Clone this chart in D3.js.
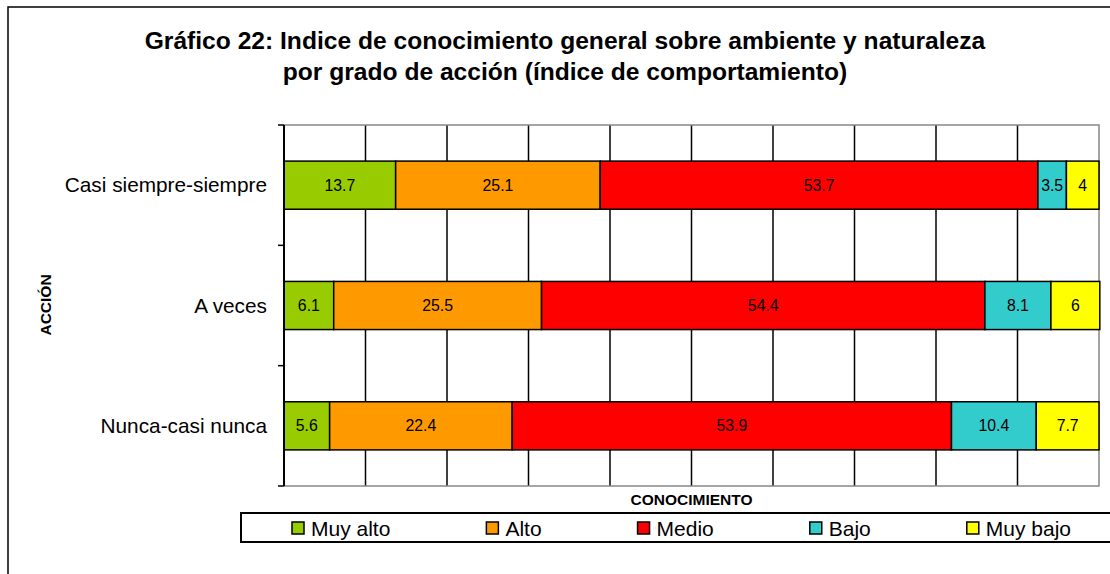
<!DOCTYPE html>
<html>
<head>
<meta charset="utf-8">
<script src="https://cdn.jsdelivr.net/npm/d3@7"></script>
<style>
  html, body { margin: 0; padding: 0; background: #fff; }
  svg { display: block; font-family: "Liberation Sans", Arial, sans-serif; }
</style>
</head>
<body>
<svg id="chart" width="1110" height="574"></svg>
<script>
// ---- data ----
const categories = ["Casi siempre-siempre", "A veces", "Nunca-casi nunca"];
const seriesNames = ["Muy alto", "Alto", "Medio", "Bajo", "Muy bajo"];
const muyAlto = [13.7, 6.1, 5.6];
const alto    = [25.1, 25.5, 22.4];
const medio   = [53.7, 54.4, 53.9];
const bajo    = [3.5, 8.1, 10.4];
const muyBajo = [4, 6, 7.7];
const seriesColors = ["#99CC00", "#FF9900", "#FF0000", "#33CCCC", "#FFFF00"];
const xTicks = [0, 10, 20, 30, 40, 50, 60, 70, 80, 90, 100];
const titleLines = ["Gráfico 22: Indice de conocimiento general sobre ambiente y naturaleza",
                    "por grado de acción (índice de comportamiento)"];
const xTitle = "CONOCIMIENTO";
const yTitle = "ACCIÓN";

const seriesValues = [muyAlto, alto, medio, bajo, muyBajo];

// ---- layout ----
const svg = d3.select("#chart");
const plot = { left: 284, top: 125, right: 1099, bottom: 486 };

// outer chart border
svg.append("rect").attr("x", 8).attr("y", 7).attr("width", 1120).attr("height", 600)
  .attr("fill", "none").attr("stroke", "#000").attr("stroke-width", 1.5);

// title
const title = svg.append("text").attr("text-anchor", "middle")
  .attr("font-weight", "bold").attr("font-size", 24.6).attr("fill", "#000");
titleLines.forEach((t, i) => {
  title.append("tspan").attr("x", 565).attr("y", 49 + i * 31).text(t);
});

const x = d3.scaleLinear().domain([0, 100]).range([plot.left, plot.right]);
const y = d3.scaleBand().domain(categories).range([plot.top, plot.bottom])
  .paddingInner(0.6).paddingOuter(0.3);

// gridlines (vertical, black)
svg.append("g").selectAll("line").data(xTicks.filter(d => d > 0 && d < 100)).join("line")
  .attr("x1", d => x(d)).attr("x2", d => x(d))
  .attr("y1", plot.top).attr("y2", plot.bottom)
  .attr("stroke", "#000").attr("stroke-width", 1.5);

// plot area border (gray top/right/bottom)
svg.append("path")
  .attr("d", `M${plot.left},${plot.top}H${plot.right}V${plot.bottom}H${plot.left}`)
  .attr("fill", "none").attr("stroke", "#888").attr("stroke-width", 1.5);

// stacked data
const stackData = categories.map((c, i) => {
  const o = { cat: c };
  seriesNames.forEach((s, j) => { o[s] = seriesValues[j][i]; });
  return o;
});
const stacked = d3.stack().keys(seriesNames)(stackData);

const layers = svg.append("g").selectAll("g").data(stacked).join("g")
  .attr("fill", (d, i) => seriesColors[i]);

layers.selectAll("rect").data(d => d).join("rect")
  .attr("x", d => x(d[0]))
  .attr("width", d => x(d[1]) - x(d[0]))
  .attr("y", d => y(d.data.cat))
  .attr("height", y.bandwidth())
  .attr("stroke", "#000").attr("stroke-width", 1.5);

// value labels
svg.append("g").selectAll("g").data(stacked).join("g")
  .each(function(layer) {
    d3.select(this).selectAll("text").data(layer).join("text")
      .attr("x", d => (x(d[0]) + x(d[1])) / 2)
      .attr("y", d => y(d.data.cat) + y.bandwidth() / 2)
      .attr("dy", "0.35em")
      .attr("text-anchor", "middle")
      .attr("font-size", 15.8).attr("fill", "#000")
      .text(d => d3.format("~g")(d.data[layer.key]));
  });

// y axis
const yAxis = svg.append("g").attr("transform", `translate(${plot.left},0)`);
yAxis.append("line").attr("x1", 0).attr("x2", 0).attr("y1", plot.top).attr("y2", plot.bottom)
  .attr("stroke", "#000").attr("stroke-width", 2);
const bounds = [plot.top].concat(categories.map(c => y(c) - y.step() * y.paddingInner() / 2 + y.step()));
yAxis.selectAll("line.tick").data(bounds).join("line").attr("class", "tick")
  .attr("x1", -6).attr("x2", 0).attr("y1", d => d).attr("y2", d => d)
  .attr("stroke", "#000").attr("stroke-width", 1.5);
yAxis.selectAll("text").data(categories).join("text")
  .attr("x", -17).attr("y", d => y(d) + y.bandwidth() / 2).attr("dy", "0.35em")
  .attr("text-anchor", "end").attr("font-size", 20.8).attr("fill", "#000")
  .text(d => d);

// axis titles
svg.append("text").attr("x", (plot.left + plot.right) / 2).attr("y", 505)
  .attr("text-anchor", "middle").attr("font-weight", "bold").attr("font-size", 15.5)
  .text(xTitle);
svg.append("text").attr("transform", "translate(51,305) rotate(-90)")
  .attr("text-anchor", "middle").attr("font-weight", "bold").attr("font-size", 15.5)
  .text(yTitle);

// legend
svg.append("rect").attr("x", 241).attr("y", 513).attr("width", 900).attr("height", 29)
  .attr("fill", "#fff").attr("stroke", "#000").attr("stroke-width", 2);
let lx = 292;
seriesNames.forEach((s, i) => {
  const g = svg.append("g").attr("transform", `translate(${lx},522)`);
  g.append("rect").attr("x", 0).attr("y", 0).attr("width", 12).attr("height", 12)
    .attr("fill", seriesColors[i]).attr("stroke", "#000").attr("stroke-width", 1.5);
  const t = g.append("text").attr("x", 19).attr("y", 13.5).attr("font-size", 21).text(s);
  lx += 19 + t.node().getComputedTextLength() + 96;
});
</script>
</body>
</html>
